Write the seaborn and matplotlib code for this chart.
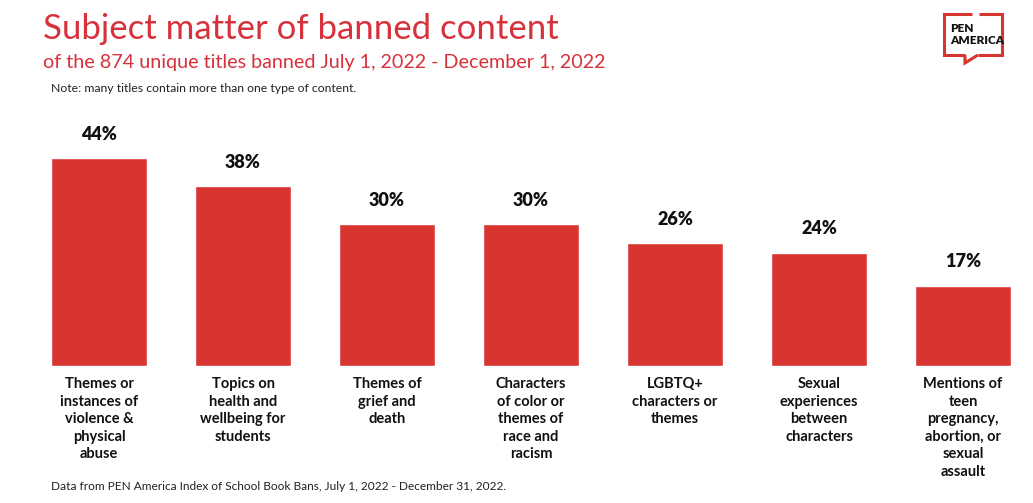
import matplotlib
matplotlib.use("Agg")
import matplotlib.pyplot as plt
import seaborn as sns
import pandas as pd
from matplotlib.lines import Line2D

categories = [
    "Themes or\ninstances of\nviolence &\nphysical\nabuse",
    "Topics on\nhealth and\nwellbeing for\nstudents",
    "Themes of\ngrief and\ndeath",
    "Characters\nof color or\nthemes of\nrace and\nracism",
    "LGBTQ+\ncharacters or\nthemes",
    "Sexual\nexperiences\nbetween\ncharacters",
    "Mentions of\nteen\npregnancy,\nabortion, or\nsexual\nassault",
]
values = [44, 38, 30, 30, 26, 24, 17]
value_labels = ["44%", "38%", "30%", "30%", "26%", "24%", "17%"]

title = "Subject matter of banned content"
subtitle = "of the 874 unique titles banned July 1, 2022 - December 1, 2022"
note = "Note: many titles contain more than one type of content."
source = "Data from PEN America Index of School Book Bans, July 1, 2022 - December 31, 2022."

RED = "#D93530"
TRED = "#D7313B"

sns.set_theme(style="white")
plt.rcParams["font.family"] = ["Lato", "DejaVu Sans"]

W, H = 1033, 503
fig = plt.figure(figsize=(W / 100, H / 100), dpi=100)
ax = fig.add_axes([27 / W, 137 / H, 1006 / W, 236.4 / H])

df = pd.DataFrame({"cat": categories, "val": values})
sns.barplot(data=df, x="cat", y="val", color=RED, saturation=1, width=0.667, ax=ax)
ax.set_ylim(0, 50)
ax.set_xlim(-0.5, 6.486)
ax.set_xlabel("")
ax.set_ylabel("")
ax.set_yticks([])
ax.set_xticks([])
for s in ax.spines.values():
    s.set_visible(False)

for i, (v, lab) in enumerate(zip(values, value_labels)):
    ax.annotate(lab, (i, v), xytext=(0, 11), textcoords="offset points",
                ha="center", va="bottom", fontsize=13, fontweight="heavy", color="#111111")
    ax.annotate(categories[i], (i, 0), xytext=(0, -8), textcoords="offset points",
                ha="center", va="top", fontsize=10.5, fontweight="bold",
                color="#111111", linespacing=1.32)

fig.text(43 / W, 1 - 29 / H, title, fontsize=25, color=TRED, fontweight="normal", va="center", ha="left")
fig.text(43 / W, 1 - 63 / H, subtitle, fontsize=14.2, color=TRED, fontweight="normal", va="center", ha="left")
fig.text(51 / W, 1 - 89 / H, note, fontsize=8.8, color="#222222", va="center", ha="left")
fig.text(51 / W, 1 - 487 / H, source, fontsize=8.6, color="#222222", va="center", ha="left")

# PEN America logo
def px(x, y):
    return (x / W, 1 - y / H)

lw = 2.2
segs = [
    [(972, 14), (944, 14), (944, 55), (965, 55)],
    [(979, 14), (1002, 14), (1002, 55), (978, 55)],
    [(965, 55), (965, 63), (978, 55)],
]
for seg in segs:
    xs = [p[0] / W for p in seg]
    ys = [1 - p[1] / H for p in seg]
    fig.add_artist(Line2D(xs, ys, transform=fig.transFigure, color=RED, lw=lw,
                          solid_joinstyle="miter", solid_capstyle="butt"))
fig.text(*px(950, 29), "PEN", fontsize=8.5, fontweight="heavy", color="#111111", va="center", ha="left")
fig.text(*px(950, 41), "AMERICA", fontsize=8.5, fontweight="heavy", color="#111111", va="center", ha="left")

fig.savefig("out.png", dpi=100, facecolor="white")
